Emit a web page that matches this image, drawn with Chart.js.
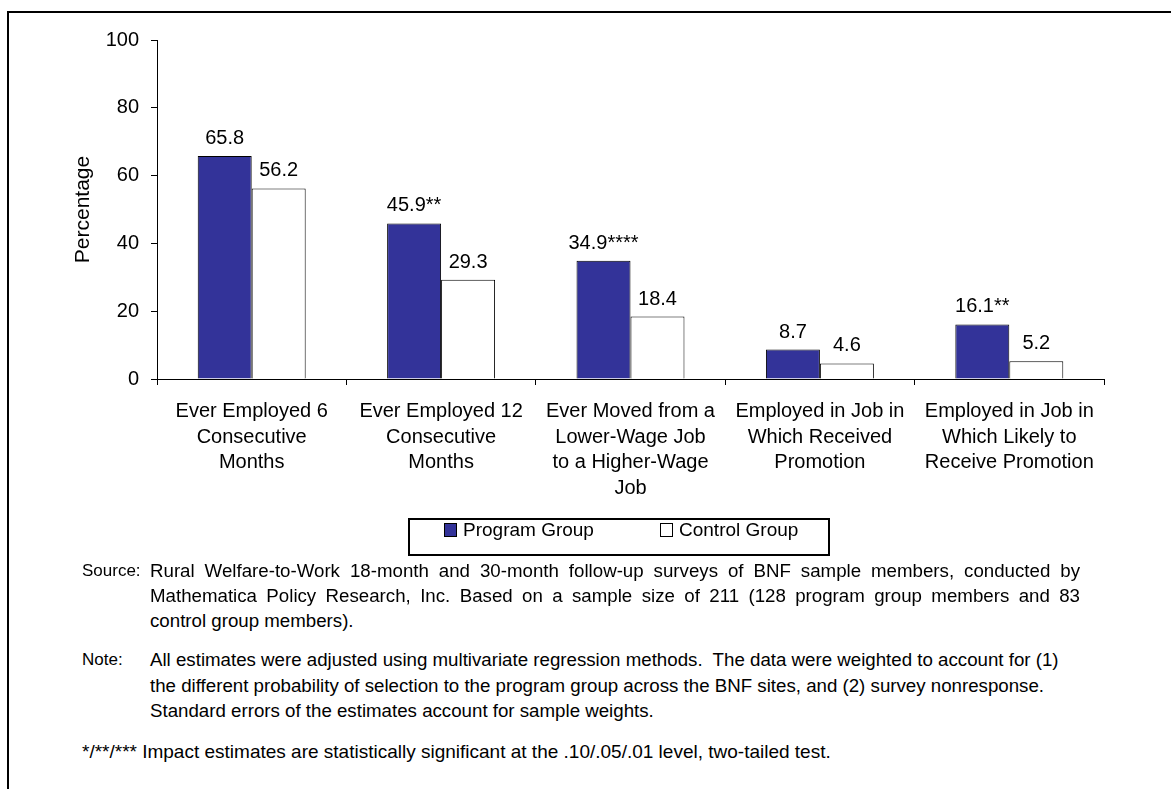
<!DOCTYPE html>
<html>
<head>
<meta charset="utf-8">
<script src="https://cdn.jsdelivr.net/npm/chart.js@4"></script>
<style>
  body { margin: 0; background: #fff; font-family: "Liberation Sans", Arial, sans-serif; color: #000; }
  #frame { position: absolute; left: 7px; top: 11px; width: 1300px; height: 900px; border-left: 2px solid #000; border-top: 2px solid #000; }
  #wrap { position: absolute; left: 0; top: 0; width: 1171px; height: 560px; }
  .ln { position: absolute; font-size: 18.7px; line-height: 25px; white-space: pre; }
  .key { left: 82px; font-size: 17px; }
  .body { left: 150px; }
  .just { width: 930px; white-space: normal; text-align: justify; text-align-last: justify; }
  .rodape { left: 82px; font-size: 19px; }
</style>
</head>
<body>
<div id="frame"></div>
<div id="wrap"><canvas id="myChart"></canvas></div>

<div class="ln key" style="top:558px">Source:</div>
<div class="ln body just" style="top:558px">Rural Welfare-to-Work 18-month and 30-month follow-up surveys of BNF sample members, conducted by</div>
<div class="ln body just" style="top:583px">Mathematica Policy Research, Inc. Based on a sample size of 211 (128 program group members and 83</div>
<div class="ln body" style="top:608px">control group members).</div>

<div class="ln key" style="top:647px">Note:</div>
<div class="ln body" style="top:647px">All estimates were adjusted using multivariate regression methods.  The data were weighted to account for (1)</div>
<div class="ln body" style="top:673px">the different probability of selection to the program group across the BNF sites, and (2) survey nonresponse.</div>
<div class="ln body" style="top:698px">Standard errors of the estimates account for sample weights.</div>

<div class="ln rodape" style="top:739px">*/**/*** Impact estimates are statistically significant at the .10/.05/.01 level, two-tailed test.</div>

<script>
var categorias = [
  ['Ever Employed 6', 'Consecutive', 'Months'],
  ['Ever Employed 12', 'Consecutive', 'Months'],
  ['Ever Moved from a', 'Lower-Wage Job', 'to a Higher-Wage', 'Job'],
  ['Employed in Job in', 'Which Received', 'Promotion'],
  ['Employed in Job in', 'Which Likely to', 'Receive Promotion']
]
var programa = [65.8, 45.9, 34.9, 8.7, 16.1]
var controle = [56.2, 29.3, 18.4, 4.6, 5.2]
var estrelasPrograma = ['', '**', '****', '', '**']
var estrelasControle = ['', '', '', '', '']
var yTicks = [0, 20, 40, 60, 80, 100]

var fonte = '"Liberation Sans", Arial, sans-serif'
Chart.defaults.font.family = fonte
Chart.defaults.color = '#000'

// rotulos em cima das barras
const rotulos = {
  id: 'rotulos',
  afterDatasetsDraw(chart) {
    const ctx = chart.ctx
    ctx.save()
    ctx.font = '20px ' + fonte
    ctx.fillStyle = '#000'
    ctx.textAlign = 'center'
    ctx.textBaseline = 'alphabetic'
    chart.data.datasets.forEach((ds, i) => {
      chart.getDatasetMeta(i).data.forEach((bar, j) => {
        ctx.fillText(ds.data[j].toFixed(1) + ds.estrelas[j], bar.x, bar.y - 12)
      })
    })
    ctx.restore()
  }
}

// legenda com caixa
const legendaCaixa = {
  id: 'legendaCaixa',
  afterDraw(chart) {
    const ctx = chart.ctx
    ctx.save()
    ctx.lineWidth = 2
    ctx.strokeStyle = '#000'
    ctx.strokeRect(409, 519, 420, 36)
    ctx.font = '19px ' + fonte
    ctx.textAlign = 'left'
    ctx.textBaseline = 'alphabetic'
    const xs = [444, 660]
    chart.data.datasets.forEach((ds, i) => {
      ctx.fillStyle = ds.backgroundColor
      ctx.fillRect(xs[i], 523, 12, 13)
      ctx.lineWidth = 1
      ctx.strokeRect(xs[i] + 0.5, 523.5, 12, 13)
      ctx.fillStyle = '#000'
      ctx.fillText(ds.label, xs[i] + 19, 536)
    })
    ctx.restore()
  }
}

const ctx = document.getElementById('myChart')
new Chart(ctx, {
  type: 'bar',
  data: {
    labels: categorias,
    datasets: [{
      label: 'Program Group',
      data: programa,
      estrelas: estrelasPrograma,
      backgroundColor: '#333399',
      borderColor: '#000',
      borderWidth: 1
    }, {
      label: 'Control Group',
      data: controle,
      estrelas: estrelasControle,
      backgroundColor: '#ffffff',
      borderColor: '#000',
      borderWidth: 1
    }]
  },
  options: {
    responsive: true,
    maintainAspectRatio: false,
    devicePixelRatio: 1,
    animation: false,
    categoryPercentage: 0.57,
    barPercentage: 1,
    layout: { padding: { top: 40, right: 67, left: 0, bottom: 0 } },
    plugins: {
      legend: { display: false },
      tooltip: { enabled: false }
    },
    scales: {
      x: {
        grid: { drawOnChartArea: false, drawTicks: true, tickLength: 6, color: '#000', offset: true },
        border: { color: '#000', width: 1 },
        ticks: { color: '#000', font: { size: 20, lineHeight: 1.275 }, padding: 14, maxRotation: 0, autoSkip: false },
        afterFit: s => { s.height = 181 }
      },
      y: {
        min: 0,
        max: 100,
        afterBuildTicks: s => { s.ticks = yTicks.map(v => ({ value: v })) },
        grid: { drawOnChartArea: false, tickLength: 6, color: '#000' },
        border: { color: '#000', width: 1 },
        ticks: { color: '#000', font: { size: 20 }, padding: 12 },
        title: { display: true, text: 'Percentage', color: '#000', font: { size: 21 }, padding: { top: 71, bottom: 0 } },
        afterFit: s => { s.width = 157 }
      }
    }
  },
  plugins: [rotulos, legendaCaixa]
})
</script>
</body>
</html>
